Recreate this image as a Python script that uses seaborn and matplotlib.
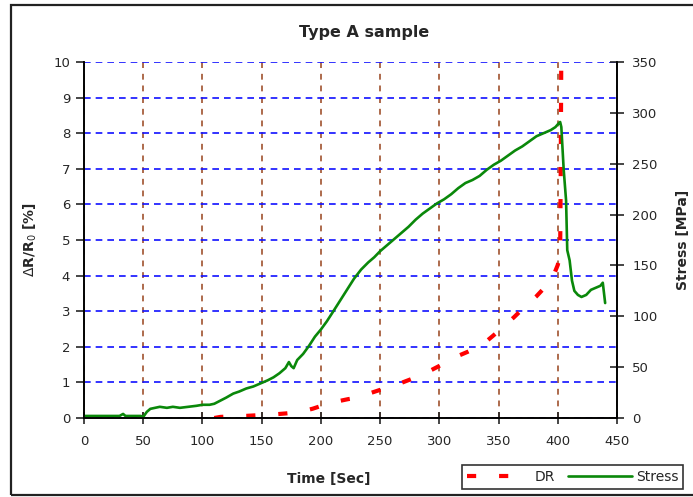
import matplotlib
matplotlib.use("Agg")
import matplotlib.pyplot as plt
import matplotlib.patches as mpatches
import seaborn as sns
import pandas as pd

# Stress record (MPa) against time (s)
time_s = [0, 10, 20, 30, 33, 35, 40, 48, 50, 53, 56, 60, 64, 70, 75, 81, 88, 95,
          100, 106, 110, 115, 120, 126, 131, 137, 143, 149, 155, 160, 165, 170,
          173, 175, 177, 180, 185, 190, 195, 200, 205, 210, 216, 222, 228, 234,
          240, 245, 250, 256, 262, 268, 274, 280, 286, 292, 298, 304, 310, 316,
          322, 328, 334, 340, 346, 352, 358, 364, 370, 376, 382, 388, 394, 398,
          401, 402, 403, 405, 407, 408, 410, 412, 414, 417, 420, 424, 428, 432,
          436, 438, 440]
stress_mpa = [2, 2, 2, 2, 4, 2, 2, 2, 1, 6, 9, 10, 11, 10, 11, 10, 11, 12,
              13, 13, 14, 17, 20, 24, 26, 29, 31, 34, 37, 40, 44, 49,
              55, 51, 49, 57, 63, 71, 80, 87, 95, 104, 115, 126, 137, 146,
              153, 158, 164, 170, 176, 182, 188, 195, 201, 206, 211, 215, 220, 226,
              231, 234, 238, 244, 249, 253, 258, 263, 267, 272, 277, 280, 283, 286,
              290, 291, 286, 244, 214, 165, 155, 135, 125, 121, 119, 121, 126, 128,
              130, 133, 113]

# Resistance change (%) against time (s)
dr_time_s = [110, 115, 126, 137, 148, 160, 171, 182, 193, 203, 213, 223, 229,
             240, 250, 260, 269, 280, 290, 301, 312, 324, 336, 345, 354, 363,
             372, 382, 391, 397, 400, 402, 402.5, 403]
dr_pct = [0.0, 0.03, 0.05, 0.06, 0.08, 0.10, 0.13, 0.17, 0.26, 0.37, 0.46, 0.53, 0.56,
          0.68, 0.79, 0.89, 1.00, 1.14, 1.29, 1.48, 1.69, 1.86, 2.05, 2.30, 2.56, 2.83,
          3.12, 3.42, 3.74, 4.05, 4.30, 4.60, 7.00, 10.5]

stress_df = pd.DataFrame({"Time": time_s, "Stress": stress_mpa})
dr_df = pd.DataFrame({"Time": dr_time_s, "DR": dr_pct})

sns.set_style("ticks")
plt.rcParams["font.family"] = ["DejaVu Sans"]

fig = plt.figure(figsize=(6.93, 4.97), dpi=100)
ax = fig.add_axes([84 / 693, 1 - 418 / 497, (617 - 84) / 693, (418 - 62) / 497])
ax2 = ax.twinx()

sns.lineplot(data=dr_df, x="Time", y="DR", ax=ax, color="red", lw=3,
             linestyle=(0, (2.2, 5.5)), sort=False, label="DR", legend=False)
sns.lineplot(data=stress_df, x="Time", y="Stress", ax=ax2, color="#0a880a", lw=1.9,
             sort=False, label="Stress", legend=False)

ax.set_xlim(0, 450)
ax.set_ylim(0, 10)
ax2.set_ylim(0, 350)
ax.set_xticks(range(0, 451, 50))
ax.set_yticks(range(0, 11))
ax2.set_yticks(range(0, 351, 50))

ax.set_axisbelow(True)
ax.grid(axis="y", color="#1010ff", linestyle=(0, (4, 3)), lw=1.2)
ax.grid(axis="x", color="#a0522d", linestyle=(0, (3.5, 3.5)), lw=1.2)
ax2.grid(False)

for a in (ax, ax2):
    a.spines["top"].set_visible(False)
    for s in ("left", "right", "bottom"):
        a.spines[s].set_color("black")
        a.spines[s].set_linewidth(1.2)
ax.patch.set_visible(False)

ax.tick_params(axis="y", direction="out", length=6, width=1.2, labelsize=9.5, pad=4)
ax.tick_params(axis="x", direction="inout", length=8, width=1.2, labelsize=9.5, pad=8)
ax2.tick_params(axis="y", direction="inout", length=10, width=1.2, labelsize=9.5, pad=6)

ax.set_xlabel("Time [Sec]", fontsize=10, fontweight="bold")
ax.xaxis.set_label_coords((329 - 84) / 533, -(472 - 418) / 356)
ax.set_ylabel(r"$\Delta$R/R$_0$ [%]", fontsize=10, fontweight="bold", labelpad=10)
ax2.set_ylabel("Stress [MPa]", fontsize=10, fontweight="bold")
ax2.yaxis.set_label_coords((676 - 84) / 533, 0.5)
ax.set_title("Type A sample", fontsize=11.5, fontweight="bold",
             x=(364 - 84) / 533, y=1.0, pad=18)

handles = ax.get_lines()[:1] + ax2.get_lines()[:1]
leg = fig.legend(handles, ["DR", "Stress"], loc="upper left",
                 bbox_to_anchor=(462 / 693, 1 - 465 / 497), bbox_transform=fig.transFigure,
                 ncol=2, frameon=True, fancybox=False, edgecolor="black",
                 fontsize=10, handlelength=4.6, handletextpad=0.3, columnspacing=0.9,
                 borderpad=0.35, borderaxespad=0)
leg.get_frame().set_linewidth(1.2)

# outer chart frame
fig.patches.append(mpatches.Rectangle((11 / 693, 2 / 497), 1.0, 0.99 - 2 / 497,
                                      transform=fig.transFigure, fill=False,
                                      edgecolor="#222222", lw=1.6))

fig.savefig("out.png", dpi=100, facecolor="white")
